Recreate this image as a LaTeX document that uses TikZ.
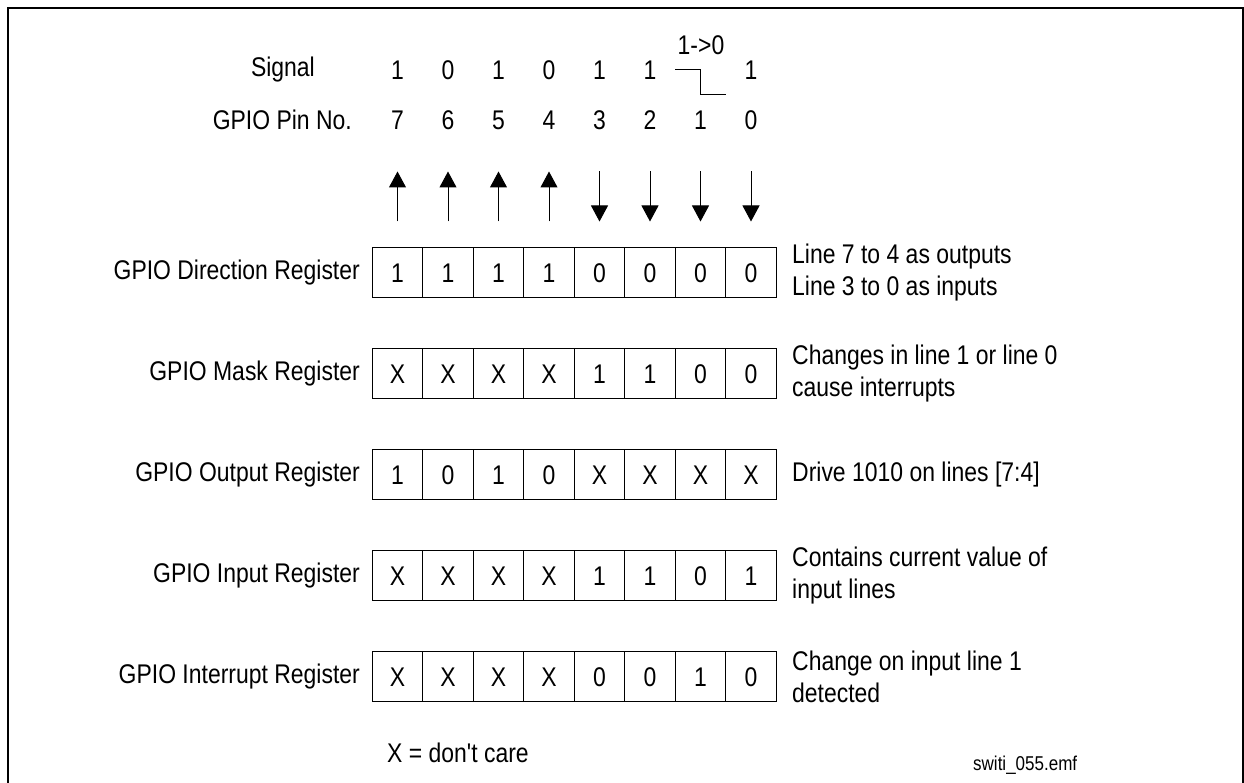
\documentclass[tikz,border=0pt]{standalone}
\usepackage{fontspec}
\setmainfont{Liberation Sans}[FakeStretch=0.85]
\newfontfamily\straightfont{Liberation Sans}[FakeStretch=0.85]
\usetikzlibrary{arrows.meta}
\begin{document}
\begin{tikzpicture}[x=1pt,y=-1pt,
  txt/.style={font=\fontsize{27}{32}\selectfont, inner sep=0pt},
  dig/.style={font=\fontsize{27}{32}\selectfont, inner sep=0pt, text height=19.4pt, text depth=0pt},
  cell/.style={draw, line width=1.2pt, minimum width=50.5pt, minimum height=50.5pt, inner sep=0pt, text height=19.4pt, text depth=0pt, font=\fontsize{27}{32}\selectfont},
  pinarrow/.style={line width=1pt, -{Triangle[length=16pt,width=17pt]}},
  frame/.style={line width=2pt}]
\useasboundingbox (0,0) rectangle (1244,783);
% frame (open at bottom)
\draw[frame] (8,783) -- (8,8) -- (1243,8) -- (1243,783);
% header labels
\node[txt, anchor=east] (siglbl) at (315,70) {Signal};
\node[txt, anchor=east] (pinlbl) at (352,120) {GPIO Pin No.};
% signal values and pin numbers
\foreach \v [count=\k from 0] in {1,0,1,0,1,1,,1} {
  \pgfmathsetmacro{\xx}{397.5+50.5*\k}
  \node[dig] (sig\k) at (\xx,70) {\v};
}
\foreach \v [count=\k from 0] in {7,6,5,4,3,2,1,0} {
  \pgfmathsetmacro{\xx}{397.5+50.5*\k}
  \node[dig] (pin\k) at (\xx,120) {\v};
  \coordinate (top\k) at (\xx,171.5);
  \coordinate (bot\k) at (\xx,221.5);
}
% transition 1->0
\node[dig] (trans) at (701,45) {1->0};
\coordinate (s1) at (675,70);
\coordinate (s2) at (700.7,70);
\coordinate (s3) at (700.7,95);
\coordinate (s4) at (725.7,95);
\draw[line width=1pt] (s1) -- (s2) -- (s3) -- (s4);
% direction arrows
\foreach \k in {0,1,2,3} \draw[pinarrow] (bot\k) -- (top\k);
\foreach \k in {4,5,6,7} \draw[pinarrow] (top\k) -- (bot\k);
% registers
\foreach \name/\bits/\note [count=\r from 0] in {
  GPIO Direction Register/{1,1,1,1,0,0,0,0}/{Line 7 to 4 as outputs\\Line 3 to 0 as inputs},
  GPIO Mask Register/{X,X,X,X,1,1,0,0}/{Changes in line 1 or line 0\\cause interrupts},
  GPIO Output Register/{1,0,1,0,X,X,X,X}/{Drive 1010 on lines [7:4]},
  GPIO Input Register/{X,X,X,X,1,1,0,1}/{Contains current value of\\input lines},
  GPIO Interrupt Register/{X,X,X,X,0,0,1,0}/{Change on input line 1\\detected}} {
  \pgfmathsetmacro{\yy}{272.5+101*\r}
  \node[txt, anchor=east] (lbl\r) at (360,\yy) {\name};
  \foreach \b [count=\k from 0] in \bits {
    \pgfmathsetmacro{\xx}{397.5+50.5*\k}
    \node[cell] (c\r-\k) at (\xx,\yy) {\b};
  }
  \node[txt, anchor=west, align=left] (note\r) at (792,\yy) {\note};
}
% footnotes
\node[txt, anchor=west] (legend) at (387,753) {\straightfont X = don't care};
\node[inner sep=0pt, anchor=west, font=\fontsize{20}{24}\selectfont] (fname) at (973,765) {switi\_055.emf};
\end{tikzpicture}
\end{document}
